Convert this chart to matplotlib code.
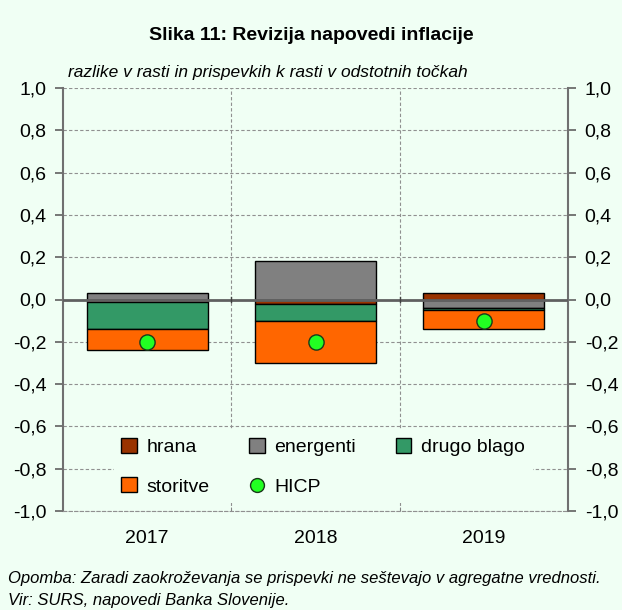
import numpy as np
import matplotlib
matplotlib.use('Agg')
import matplotlib.pyplot as plt
from matplotlib.ticker import FuncFormatter, FixedLocator
from matplotlib.lines import Line2D
from matplotlib.patches import Patch

years = ['2017', '2018', '2019']
hrana = [-0.01, -0.02, 0.03]
energenti = [0.03, 0.18, -0.04]
drugo_blago = [-0.13, -0.08, -0.01]
storitve = [-0.10, -0.20, -0.09]
hicp = [-0.20, -0.20, -0.10]

series = [('hrana', hrana, '#993300'),
          ('energenti', energenti, '#808080'),
          ('drugo blago', drugo_blago, '#339966'),
          ('storitve', storitve, '#FF6600')]

plt.rcParams['font.family'] = ['Liberation Sans', 'DejaVu Sans']
bg = '#F0FFF4'

fig = plt.figure(figsize=(6.22, 6.10), dpi=100, facecolor=bg)
ax = fig.add_axes([63/622, 1 - 511/610, 505/622, 423/610], facecolor=bg)

x = np.arange(len(years))
pos = np.zeros(len(years))
neg = np.zeros(len(years))
for name, vals, col in series:
    vals = np.array(vals)
    bottom = np.where(vals >= 0, pos, neg)
    ax.bar(x, vals, 0.72, bottom=bottom, color=col, edgecolor='black', linewidth=1.0, zorder=3)
    pos = pos + np.where(vals >= 0, vals, 0)
    neg = neg + np.where(vals < 0, vals, 0)

ax.scatter(x, hicp, s=120, color='#22FF22', edgecolor='#1a3a1a', linewidth=1.0, zorder=5)

ax.set_xlim(-0.5, 2.5)
ax.set_ylim(-1.0, 1.0)
yt = np.round(np.arange(-1.0, 1.01, 0.2), 1)
ax.set_yticks(yt)
fmt = FuncFormatter(lambda v, p: ('%.1f' % (0.0 if abs(v) < 1e-9 else v)).replace('.', ','))
ax.yaxis.set_major_formatter(fmt)
ax.tick_params(axis='y', which='both', left=True, right=True, labelleft=True, labelright=True,
               direction='out', length=6, width=1.2, color='#606060', labelsize=14, pad=6)
ax.set_xticks(x)
ax.set_xticklabels(years)
ax.xaxis.set_minor_locator(FixedLocator([0.5, 1.5]))
ax.tick_params(axis='x', which='major', length=0, labelsize=14, pad=14)
ax.tick_params(axis='x', which='minor', direction='in', length=3, color='#808080')

for v in yt:
    if v != 0:
        ax.axhline(v, color='#909090', linestyle=(0, (3, 2)), linewidth=0.8, zorder=1)
for v in [0.5, 1.5]:
    ax.axvline(v, color='#909090', linestyle=(0, (3, 2)), linewidth=0.8, zorder=1)
ax.axhline(0, color='#606060', linewidth=2.0, zorder=4)
for v in [0.5, 1.5]:
    ax.plot([v, v], [-0.012, 0.012], color='#404040', linewidth=1.0, zorder=4)

for s in ax.spines.values():
    s.set_color('#707070')
    s.set_linewidth(1.5)
ax.spines['top'].set_visible(False)
ax.spines['bottom'].set_color('#909090')
ax.spines['bottom'].set_linestyle((0, (3, 2)))
ax.spines['bottom'].set_linewidth(0.8)

handles = [Patch(facecolor=series[0][2], edgecolor='black', label='hrana'),
           Patch(facecolor=series[3][2], edgecolor='black', label='storitve'),
           Patch(facecolor=series[1][2], edgecolor='black', label='energenti'),
           Line2D([], [], marker='o', linestyle='none', markersize=10, markerfacecolor='#22FF22',
                  markeredgecolor='#1a3a1a', label='HICP'),
           Patch(facecolor=series[2][2], edgecolor='black', label='drugo blago')]
leg = ax.legend(handles=handles, ncol=3, loc='lower left', bbox_to_anchor=(0.10, 0.018, 0.83, 0.2),
                mode='expand', frameon=True, facecolor=bg, edgecolor='none', framealpha=1,
                fontsize=14, handlelength=0.8, handleheight=0.8, handletextpad=0.5,
                borderaxespad=0, labelspacing=1.1, columnspacing=1.0)
leg.set_zorder(6)

fig.text(0.5, 1 - 35/610, 'Slika 11: Revizija napovedi inflacije', ha='center', va='center',
         fontsize=14, fontweight='bold')
fig.text(68/622, 1 - 72/610, 'razlike v rasti in prispevkih k rasti v odstotnih točkah',
         ha='left', va='center', fontsize=12.5, style='italic')
fig.text(8/622, 1 - 578/610, 'Opomba: Zaradi zaokroževanja se prispevki ne seštevajo v agregatne vrednosti.',
         ha='left', va='center', fontsize=12, style='italic')
fig.text(8/622, 1 - 600/610, 'Vir: SURS, napovedi Banka Slovenije.',
         ha='left', va='center', fontsize=12, style='italic')

fig.savefig('out.png', dpi=100, facecolor=bg)
